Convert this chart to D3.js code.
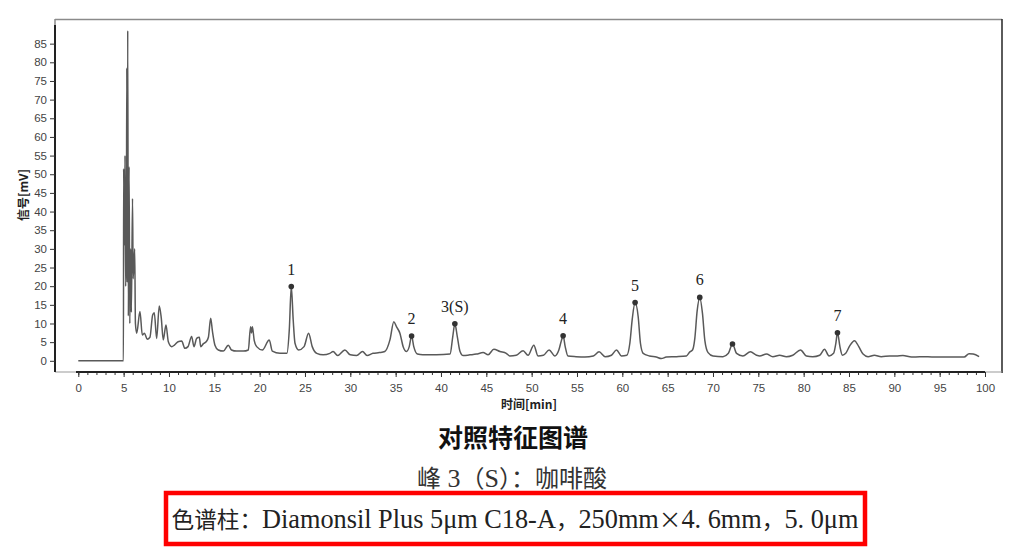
<!DOCTYPE html>
<html><head><meta charset="utf-8">
<script src="https://cdn.jsdelivr.net/npm/d3@7/dist/d3.min.js"></script>
<style>html,body{margin:0;padding:0;background:#fff;}svg{display:block;}</style>
</head><body>
<svg id="chart" width="1024" height="549"></svg>
<script>
// ---- data ----
const traceTime = [0,4.98,5.0,5.08,5.15,5.22,5.3,5.35,5.4,5.45,5.52,5.6,5.68,5.78,5.85,5.98,6.05,6.22,6.3,6.44,6.8,7.06,7.3,7.6,7.9,8.2,8.38,8.64,8.93,9.15,9.37,9.67,9.93,10.3,10.6,11.0,11.4,11.76,12.1,12.5,12.76,13.05,13.35,13.5,13.8,14.1,14.35,14.6,14.8,15.07,15.44,16.0,16.54,16.9,17.45,18.2,18.75,19.0,19.1,19.2,19.4,19.67,20.3,21.06,21.4,22.24,23.0,23.27,23.49,23.7,23.9,24.3,24.9,25.4,25.8,26.3,27.0,27.75,28.1,28.6,29.4,30.0,30.7,31.35,31.85,32.5,33.2,33.8,34.37,34.8,35.1,35.47,35.83,36.2,36.5,36.76,37.0,37.4,38.0,39.5,41.0,41.3,41.53,41.8,42.1,42.45,43.2,43.9,44.65,45.2,45.83,46.5,47.2,47.6,48.3,49.06,49.6,50.24,50.7,51.3,51.93,52.55,53.0,53.3,53.47,53.7,54.0,54.9,55.87,56.8,57.44,58.1,58.8,59.36,59.9,60.5,60.83,61.1,61.41,61.75,62.0,62.3,63.0,63.75,64.3,64.85,65.97,67.07,67.45,67.74,68.0,68.25,68.54,68.84,69.1,69.46,70.0,71.1,71.7,72.15,72.6,73.3,74.13,74.8,75.15,75.9,76.6,77.35,78.1,78.8,79.65,80.3,81.0,81.77,82.3,82.8,83.3,83.55,83.73,84.0,84.27,84.64,85.08,85.6,86.08,86.55,87.1,87.8,88.56,89.5,90.2,90.95,91.9,92.8,93.7,94.6,95.7,97.2,97.7,98.24,98.7,99.35];
const traceSignal = [0,0,51.5,31,55,20,30,78.5,21,88.5,12,52,10,30,13,43.5,22,30,10,7.4,13.2,6.9,7.4,5.8,6.3,12.3,12.9,6.0,14.7,11.5,5.6,9.6,5.1,3.8,4.2,5.1,5.3,3.35,3.8,6.5,3.8,6.0,6.3,3.8,4.6,5.1,6.3,11.4,7.8,4.2,2.9,2.6,4.2,2.9,2.6,2.6,2.9,9.1,7.5,9.1,5.5,3.8,2.9,5.6,2.6,2.0,2.0,8.3,19.9,11,4.7,2.9,3.8,7.4,3.8,2.0,1.6,2.0,2.5,1.4,2.9,1.6,1.4,2.5,1.4,2.0,2.2,2.5,5.6,10.5,9.1,7.4,3.8,2.5,3.8,6.65,3.8,1.8,1.6,1.6,1.8,6.5,9.9,6.5,2.5,1.4,1.6,1.8,2.2,1.6,3.1,2.5,2.0,1.3,1.5,2.7,1.5,4.2,1.3,1.5,2.9,1.3,2.9,5.6,6.7,3.8,1.3,1.1,1.0,1.3,2.4,1.1,1.5,2.9,1.3,1.5,4.7,11.3,15.6,11.8,4.7,2.0,1.3,1.0,0.6,1.0,1.1,1.3,2.4,2.9,6.1,13.3,17.0,12.7,5.5,2.2,1.3,1.1,2.0,4.5,2.0,1.3,2.4,1.5,1.3,1.8,1.1,1.5,1.1,1.5,2.9,1.3,1.1,1.5,3.1,1.3,2.0,4.7,7.5,3.8,1.5,2.0,4.0,5.4,3.8,1.8,1.1,1.5,1.1,1.3,1.3,1.4,1.0,1.1,1.1,1.0,1.0,1.0,1.0,1.9,1.8,1.1];

const peakLabels  = ["1","2","3(S)","4","5","6","","7"];
const peakTimes   = [23.49,36.76,41.53,53.47,61.41,68.54,72.15,83.73];
const peakSignals = [19.9,6.65,9.9,6.7,15.6,17.0,4.5,7.5];

const xTicks = d3.range(0,101,5);
const xMinorTicks = d3.range(0,101,1);
const yTicks = d3.range(0,86,5);

const yAxisTitle = "信号[mV]";
const xAxisTitle = "时间[min]";
const chartTitle = "对照特征图谱";
const subTitle = "峰 3（S）：咖啡酸";
const columnNote = "色谱柱：Diamonsil Plus 5μm C18-A，250mm×4. 6mm，5. 0μm";

// ---- drawing ----
const svg = d3.select("#chart");
svg.append("rect").attr("width",1024).attr("height",549).attr("fill","#fff");

const x = d3.scaleLinear().domain([0,100]).range([78.3,985]);
const y = d3.scaleLinear().domain([-3,90]).range([372,25]);

// frame
svg.append("line").attr("x1",55).attr("x2",1002).attr("y1",19.5).attr("y2",19.5).attr("stroke","#8a8a8a").attr("stroke-width",1.5);
svg.append("line").attr("x1",1002).attr("x2",1002).attr("y1",19).attr("y2",373).attr("stroke","#333").attr("stroke-width",1.6);
svg.append("line").attr("x1",55).attr("x2",1002).attr("y1",372).attr("y2",372).attr("stroke","#999").attr("stroke-width",1);
svg.append("line").attr("x1",55).attr("x2",55).attr("y1",19).attr("y2",25).attr("stroke","#8a8a8a").attr("stroke-width",1.5);

// y axis
const yAxis = d3.axisLeft(y).tickValues(yTicks).tickSize(5).tickPadding(3).tickFormat(d3.format("d"));
const gy = svg.append("g").attr("transform","translate(55,0)").call(yAxis);
gy.select(".domain").attr("d","M0,25V372").attr("stroke","#222").attr("stroke-width",2);
gy.selectAll(".tick line").attr("stroke","#333");
gy.selectAll(".tick text").attr("font-family","'Liberation Sans', Arial, sans-serif").attr("font-size",11.5).attr("fill","#444");

// x axis
const gxm = svg.append("g").attr("transform","translate(0,372)")
  .call(d3.axisBottom(x).tickValues(xMinorTicks).tickSize(3).tickFormat(""));
gxm.select(".domain").remove();
gxm.selectAll(".tick line").attr("stroke","#333");
const gx = svg.append("g").attr("transform","translate(0,372)")
  .call(d3.axisBottom(x).tickValues(xTicks).tickSize(5).tickPadding(7).tickFormat(d3.format("d")));
gx.select(".domain").attr("d","M76,0H985").attr("stroke","#222").attr("stroke-width",2);
gx.selectAll(".tick line").attr("stroke","#333");
gx.selectAll(".tick text").attr("font-family","'Liberation Sans', Arial, sans-serif").attr("font-size",11.5).attr("fill","#444");

// trace
const pts = traceTime.map((t,i)=>[t,traceSignal[i]]);
const line = d3.line().x(d=>x(d[0])).y(d=>y(d[1])).curve(d3.curveMonotoneX);
svg.append("path").attr("d",line(pts)).attr("fill","none").attr("stroke","#595959").attr("stroke-width",1.5).attr("stroke-linejoin","round");

// peak markers
const peaks = peakTimes.map((t,i)=>({t, v:peakSignals[i], label:peakLabels[i]}));
svg.selectAll("circle.pk").data(peaks).join("circle").attr("class","pk")
  .attr("cx",d=>x(d.t)).attr("cy",d=>y(d.v)).attr("r",2.8).attr("fill","#333");
svg.selectAll("text.pk").data(peaks).join("text").attr("class","pk")
  .attr("x",d=>x(d.t)).attr("y",d=>y(d.v)-12)
  .attr("text-anchor","middle").attr("font-family","'Liberation Serif','Times New Roman',serif")
  .attr("font-size",16).attr("fill","#222").text(d=>d.label);

// axis titles
svg.append("text").attr("transform","translate(28,195) rotate(-90)").attr("text-anchor","middle")
  .attr("font-family","'Noto Sans CJK SC', sans-serif").attr("font-weight","bold").attr("font-size",12).attr("fill","#222").text(yAxisTitle);
svg.append("text").attr("x",529).attr("y",409).attr("text-anchor","middle")
  .attr("font-family","'Noto Sans CJK SC', sans-serif").attr("font-weight","bold").attr("font-size",12).attr("fill","#222").text(xAxisTitle);

// titles
svg.append("text").attr("x",513).attr("y",447).attr("text-anchor","middle")
  .attr("font-family","'Noto Sans CJK SC', sans-serif").attr("font-weight","bold").attr("font-size",25).attr("fill","#111").text(chartTitle);

// mixed-script text: CJK runs in CJK font, Latin runs in a serif font
function mixedText(sel, str, cjkSize, latSize){
  const re = /([\u3000-\u9fff\uff00-\uffef×]+)/;
  str.split(re).filter(s=>s.length).forEach(s=>{
    const cjk = re.test(s) && s.match(re)[0]===s;
    sel.append("tspan")
      .attr("font-family", cjk ? "'Noto Sans CJK SC', sans-serif" : "'Liberation Serif','Times New Roman',serif")
      .attr("font-size", cjk ? cjkSize : latSize)
      .text(s);
  });
}
const sub = svg.append("text").attr("x",512).attr("y",487).attr("text-anchor","middle").attr("fill","#333").attr("xml:space","preserve");
mixedText(sub, subTitle, 24, 26);

svg.append("rect").attr("x",166).attr("y",493).attr("width",699).attr("height",51)
  .attr("fill","none").attr("stroke","#ff0000").attr("stroke-width",4.5);
const note = svg.append("text").attr("x",515).attr("y",528).attr("text-anchor","middle").attr("fill","#222").attr("xml:space","preserve");
mixedText(note, columnNote, 22.6, 26.3);
</script>
</body></html>
